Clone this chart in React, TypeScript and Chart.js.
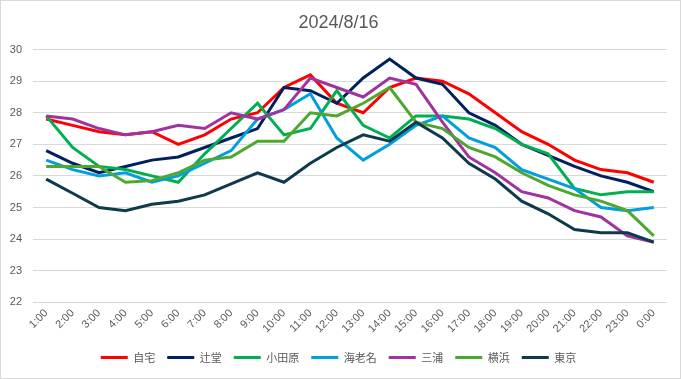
import React, { useEffect, useRef } from "react";
import { Chart, registerables } from "chart.js";

Chart.register(...registerables);

const hours = ["1:00","2:00","3:00","4:00","5:00","6:00","7:00","8:00","9:00","10:00","11:00","12:00","13:00","14:00","15:00","16:00","17:00","18:00","19:00","20:00","21:00","22:00","23:00","0:00"];

const jitaku = [27.8,27.6,27.4,27.3,27.4,27.0,27.3,27.8,28.0,28.8,29.2,28.3,28.0,28.8,29.1,29.0,28.6,28.0,27.4,27.0,26.5,26.2,26.1,25.8];
const tsujido = [26.8,26.4,26.1,26.3,26.5,26.6,26.9,27.2,27.5,28.8,28.7,28.3,29.1,29.7,29.1,28.9,28.0,27.6,27.0,26.65,26.3,26.0,25.8,25.5];
const odawara = [27.9,26.9,26.3,26.2,26.0,25.8,26.7,27.5,28.3,27.3,27.5,28.7,27.6,27.2,27.9,27.9,27.8,27.5,27.0,26.7,25.6,25.4,25.5,25.5];
const ebina = [26.5,26.2,26.0,26.1,25.8,26.0,26.4,26.8,27.8,28.1,28.6,27.2,26.5,27.0,27.6,27.9,27.2,26.9,26.2,25.9,25.6,25.0,24.9,25.0];
const miura = [27.9,27.8,27.5,27.3,27.4,27.6,27.5,28.0,27.8,28.1,29.1,28.8,28.5,29.1,28.9,27.7,26.6,26.1,25.5,25.3,24.9,24.7,24.1,23.9];
const yokohama = [26.3,26.3,26.3,25.8,25.85,26.1,26.5,26.6,27.1,27.1,28.0,27.9,28.3,28.8,27.7,27.5,26.9,26.6,26.1,25.7,25.4,25.2,24.9,24.1];
const tokyo = [25.9,25.45,25.0,24.9,25.1,25.2,25.4,25.75,26.1,25.8,26.4,26.9,27.3,27.1,27.7,27.2,26.4,25.9,25.2,24.8,24.3,24.2,24.2,23.9];

const seriesNames = ["自宅","辻堂","小田原","海老名","三浦","横浜","東京"];
const seriesColors = ["#FF0000","#002060","#00B050","#00A0DE","#A0339F","#4EA72E","#0E3A4B"];
const seriesData = [jitaku, tsujido, odawara, ebina, miura, yokohama, tokyo];

const yMin = 22;
const yMax = 30;

export default function App() {
  const ref = useRef<HTMLCanvasElement | null>(null);

  useEffect(() => {
    document.body.style.margin = "0";
    const canvas = ref.current;
    if (!canvas) return;
    const n = seriesData.length;
    const chart = new Chart(canvas, {
      type: "line",
      data: {
        labels: hours,
        datasets: seriesData.map((d, i) => ({
          label: seriesNames[i],
          data: d,
          borderColor: seriesColors[i],
          backgroundColor: seriesColors[i],
          borderWidth: 3,
          pointRadius: 0,
          pointHoverRadius: 0,
          tension: 0,
          fill: false,
          order: n - i,
        })),
      },
      options: {
        responsive: false,
        animation: false,
        layout: { padding: { left: 9, right: 13, top: 0, bottom: 5 } },
        plugins: {
          title: {
            display: true,
            text: "2024/8/16",
            color: "#595959",
            font: { family: "'Liberation Sans', Arial, sans-serif", size: 18, weight: "normal" },
            padding: { top: 11, bottom: 16 },
          },
          legend: {
            position: "bottom",
            labels: {
              usePointStyle: true,
              pointStyle: "line",
              pointStyleWidth: 27,
              boxHeight: 3,
              padding: 12,
              color: "#595959",
              font: { family: "'Noto Sans CJK JP', sans-serif", size: 11 },
              sort: (a: any, b: any) => a.datasetIndex - b.datasetIndex,
            },
          },
          tooltip: { enabled: false },
        },
        scales: {
          x: {
            offset: true,
            grid: { display: false, drawTicks: false },
            border: { display: false },
            afterFit: (scale: any) => {
              scale.paddingLeft = 0;
            },
            ticks: {
              color: "#595959",
              font: { family: "'Liberation Sans', Arial, sans-serif", size: 11 },
              minRotation: 45,
              maxRotation: 45,
              autoSkip: false,
              padding: 4.5,
            },
          },
          y: {
            min: yMin,
            max: yMax,
            grid: { color: "#D9D9D9", lineWidth: 1, drawTicks: false },
            border: { display: false },
            afterFit: (scale: any) => {
              scale.width = 23;
            },
            ticks: {
              stepSize: 1,
              color: "#595959",
              font: { family: "'Liberation Sans', Arial, sans-serif", size: 11 },
              padding: 11,
            },
          },
        },
      },
    });
    return () => chart.destroy();
  }, []);

  return (
    <div
      style={{
        width: 681,
        height: 379,
        boxSizing: "border-box",
        border: "1px solid #D9D9D9",
        background: "#FFFFFF",
        overflow: "hidden",
      }}
    >
      <canvas ref={ref} width={679} height={377} style={{ display: "block" }} />
    </div>
  );
}
